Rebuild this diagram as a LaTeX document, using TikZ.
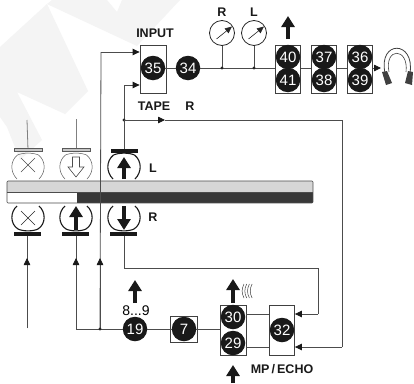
\documentclass[tikz,border=0pt]{standalone}
\usepackage{fontspec}
\setmainfont{Liberation Sans}
\usetikzlibrary{arrows.meta}
\definecolor{wm}{gray}{0.955}
\tikzset{
 x=1pt,y=-1pt,
 num/.style={circle,fill=black!90,text=white,inner sep=0pt,minimum size=24.5pt,font=\fontsize{15}{15}\selectfont},
 lab/.style={font=\fontsize{12.5}{12.5}\selectfont\bfseries,inner sep=0pt,text=black!90},
 wire/.style={draw=black!70,line width=.8pt},
 tipw/.style={wire,-{Triangle[length=7pt,width=6.5pt,black!90]}},
 frame/.style={draw=black!75,line width=.8pt,fill=white},
 bigarrow/.style={-{Triangle[length=11pt,width=13pt]},line width=4.8pt,draw=black!90},
 dotn/.style={circle,fill=black!85,inner sep=0pt,minimum size=3.2pt},
 meter/.style={circle,draw=black!85,line width=.8pt,fill=white,minimum size=25pt,inner sep=0pt},
}
\begin{document}
\begin{tikzpicture}
\useasboundingbox (0,0) rectangle (414,383);
\fill[white] (0,0) rectangle (414,383);
% watermark
\fill[wm] (0,47) -- (47,4) -- (88,91) -- (65,114) -- (17,92) -- (42,140) -- (20,160) -- (7,127) -- (0,117) -- cycle;
\fill[wm] (47,4) -- (52,0) -- (107,0) -- (117,12) -- (122,0) -- (180,0) -- (137,46) -- cycle;
% tape
\fill[black!16] (7,181) rectangle (313,192);
\fill[black!78] (77,192) rectangle (313,203);
\draw[black!70,line width=.6pt,rounded corners=1pt] (313,181) -- (7,181) -- (7,203) -- (313,203) -- cycle;
\draw[black!70,line width=.6pt] (7,192) -- (313,192);
% coordinates
\coordinate (hul) at (28,150); \coordinate (hum) at (76,150); \coordinate (hur) at (124,150);
\coordinate (hll) at (27,233); \coordinate (hlm) at (76,233); \coordinate (hlr) at (124,233);
\coordinate (t1) at (27,120); \coordinate (t2) at (76,119);
\coordinate (b1) at (27,328);
% wires
\draw[wire,black!50] (t1) -- (hul);
\draw[wire,black!50] (t2) -- (hum);
\node[frame,minimum width=26pt,minimum height=48pt,inner sep=0pt] (b35) at (153,69) {};
\node[frame,minimum width=25pt,minimum height=48pt,inner sep=0pt] (b40) at (288,69) {};
\node[frame,minimum width=25pt,minimum height=48pt,inner sep=0pt] (b37) at (324,69) {};
\node[frame,minimum width=25pt,minimum height=48pt,inner sep=0pt] (b36) at (360,69) {};
\node[frame,minimum width=26pt,minimum height=50pt,inner sep=0pt] (b30) at (233,330) {};
\node[frame,minimum width=25pt,minimum height=50pt,inner sep=0pt] (b32) at (282,330) {};
\node[frame,minimum width=27pt,minimum height=26pt,inner sep=0pt] (b7) at (184,329) {};
\node[num] (n35) at (153,68) {35};
\node[num] (n34) at (188,68) {34};
\node[num] (n40) at (288,57) {40};
\node[num] (n41) at (288,80) {41};
\node[num] (n37) at (324,57) {37};
\node[num] (n38) at (324,80) {38};
\node[num] (n36) at (360,57) {36};
\node[num] (n39) at (360,80) {39};
\node[num] (n19) at (135,329) {19};
\node[num] (n7) at (184,329) {7};
\node[num] (n30) at (233,317) {30};
\node[num] (n29) at (233,343) {29};
\node[num] (n32) at (282,330) {32};
\node[meter] (mr) at (222,33) {};
\node[meter] (ml) at (254,33) {};
\coordinate (jr) at (222,68); \coordinate (jl) at (254,68);
\draw[wire] (n35) -- (n34);
\draw[wire] (n34) -- (b40.west|-n34);
\draw[wire] (b40.east|-n34) -- (b37.west|-n34);
\draw[wire] (b37.east|-n34) -- (b36.west|-n34);
\coordinate (hp) at (381,68);
\draw[tipw] (b36.east|-n34) -- (hp);
\draw[wire] (mr) -- (jr); \draw[wire] (ml) -- (jl);
\node[dotn] at (jr) {}; \node[dotn] at (jl) {};
% input wires
\coordinate (j19) at (100,329);
\coordinate (c1) at (101,52);
\draw[wire] (j19) -- (c1);
\draw[tipw] (c1) -- (b35.west|-c1);
\coordinate (c2) at (124,85); \coordinate (jt) at (124,120);
\draw[wire] (hur) -- (c2);
\draw[tipw] (c2) -- (b35.west|-c2);
\node[dotn] at (jt) {};
\coordinate (c3) at (342,120); \coordinate (c4) at (342,347); \coordinate (m1) at (165,120);
\draw[tipw] (jt) -- (m1);
\draw[wire] (m1) -- (c3) -- (c4);
\draw[tipw] (c4) -- (b32.east|-c4);
\coordinate (c5) at (124,268); \coordinate (c6) at (318,268); \coordinate (c7) at (318,314);
\draw[wire] (hlr) -- (c5) -- (c6) -- (c7);
\draw[tipw] (c7) -- (b32.east|-c7);
% lower wires
\coordinate (a1) at (27,258); \coordinate (a2) at (76,258); \coordinate (a3) at (100,258);
\draw[wire] (b1) -- (hll);
\draw[tipw] (b1) -- (a1);
\coordinate (c8) at (76,329);
\draw[wire] (n19) -- (c8) -- (hlm);
\draw[tipw] (c8) -- (a2);
\draw[tipw] (j19) -- (a3);
\node[dotn] at (j19) {};
\draw[wire] (n19) -- (n7);
\draw[wire] (n7) -- (b30.west|-n7);
\coordinate (y1) at (246,314); \coordinate (y2) at (246,347);
\draw[wire] (y1) -- (b32.west|-y1);
\draw[wire] (y2) -- (b32.west|-y2);
% meter needles
\foreach \c in {mr,ml}{
 \draw[black!85,line width=.6pt,-{Triangle[length=7pt,width=6pt]}] ([shift={(-5.5,6)}]\c.center) -- ([shift={(10,-6.5)}]\c.center);
}
% upper heads
\foreach \cx in {28,76}{
 \draw[black!65,line width=.5pt] (\cx-10.5,155) .. controls (\cx-18,161) and (\cx-18,172) .. (\cx-11,179);
 \draw[black!65,line width=.5pt] (\cx+10.5,155) .. controls (\cx+18,161) and (\cx+18,172) .. (\cx+11,179);
 \draw[black!65,line width=.5pt] (\cx-10.5,155) .. controls (\cx-5,152.5) and (\cx+5,152.5) .. (\cx+10.5,155);
 \fill[black!22,draw=black!65,line width=.4pt] (\cx-14,148.5) rectangle (\cx+14,151.5);
}
\draw[black!70,line width=.5pt] (21,158) -- (35,172) (35,158) -- (21,172);
\draw[black!70,line width=.6pt,fill=white] (72.5,157) -- (79.5,157) -- (79.5,167) -- (84,167) -- (76,177) -- (68,167) -- (72.5,167) -- cycle;
% L head
\draw[line width=1.1pt,black!90] (124-10.5,155) .. controls (124-18,161) and (124-18,172) .. (124-11,179);
\draw[line width=1.1pt,black!90] (124+10.5,155) .. controls (124+18,161) and (124+18,172) .. (124+11,179);
\draw[line width=1.1pt,black!90] (124-10.5,155) .. controls (124-5,152.5) and (124+5,152.5) .. (124+10.5,155);
\fill[black!90] (111,149) rectangle (138,152.5);
\coordinate (g1) at (124,179); \coordinate (g2) at (124,157);
\draw[bigarrow] (g1) -- (g2);
% lower heads
\foreach \cx in {28,76,124}{
 \draw[line width=1.1pt,black!90] (\cx-11,206) .. controls (\cx-18,212) and (\cx-18,224) .. (\cx-10,229);
 \draw[line width=1.1pt,black!90] (\cx+11,206) .. controls (\cx+18,212) and (\cx+18,224) .. (\cx+10,229);
 \draw[line width=1.1pt,black!90] (\cx-10,229) .. controls (\cx-5,231.5) and (\cx+5,231.5) .. (\cx+10,229);
 \fill[black!90] (\cx-14,232) rectangle (\cx+13,235.5);
}
\draw[black!85,line width=.6pt] (21,211) -- (35,225) (35,211) -- (21,225);
\coordinate (g3) at (76,230); \coordinate (g4) at (76,206);
\draw[bigarrow] (g3) -- (g4);
\coordinate (g5) at (124,206); \coordinate (g6) at (124,230);
\draw[bigarrow] (g5) -- (g6);
% big arrows
\coordinate (k1) at (135,303); \coordinate (k2) at (135,280);
\draw[bigarrow] (k1) -- (k2);
\coordinate (k3) at (288,39); \coordinate (k4) at (288,16);
\draw[bigarrow] (k3) -- (k4);
\coordinate (k5) at (233,303); \coordinate (k6) at (233,279);
\draw[bigarrow] (k5) -- (k6);
\coordinate (k7) at (233,383); \coordinate (k8) at (233,365);
\draw[bigarrow] (k7) -- (k8);
% waves
\foreach \i in {0,1,2,3}{
 \draw[black!75,line width=.5pt] (244+\i*2.7,284) .. controls (241.5+\i*2.7,289) and (241.5+\i*2.7,293) .. (244+\i*2.7,298);
}
% headphones
\draw[black!75,line width=.8pt] (385,73) .. controls (378,40) and (415,40) .. (410,73);
\draw[black!75,line width=.6pt] (389,72) .. controls (384,47) and (409,47) .. (406,72);
\fill[black!75] (382,72) -- (387,71) -- (392,83) -- (386,85) -- cycle;
\fill[black!75] (408,71) -- (413,72) -- (412,85) -- (405,83) -- cycle;
% labels
\node[lab] (tinput) at (155,33) {INPUT};
\node[lab] (ttape) at (154,106) {TAPE};
\node[lab] (ttr) at (190,106) {R};
\node[lab] (tl) at (153,168) {L};
\node[lab] (tr) at (153,217) {R};
\node[lab] (tmr) at (222,12) {R};
\node[lab] (tml) at (254,12) {L};
\node[font=\fontsize{14}{14}\selectfont,inner sep=0pt] (t89) at (136,311) {8...9};
\node[lab] (tmp) at (282,369) {MP\,/\,ECHO};
\end{tikzpicture}
\end{document}
